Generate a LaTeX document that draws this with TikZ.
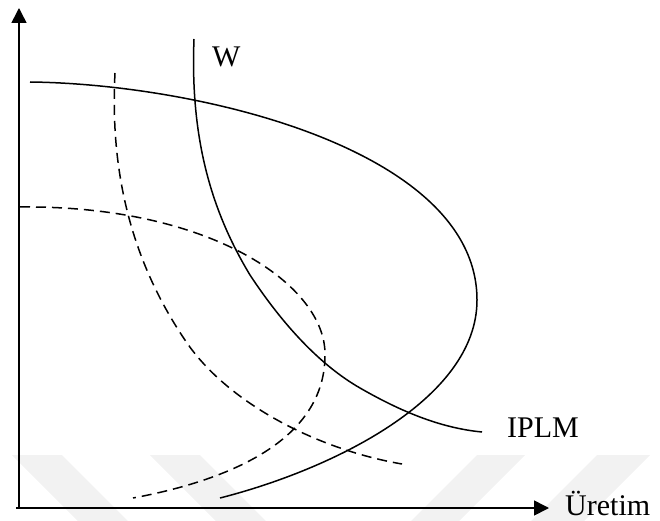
\documentclass[tikz,border=0pt]{standalone}
\usepackage{fontspec}
\setmainfont{Liberation Serif}
\usepackage{tikz}
\usetikzlibrary{arrows.meta,positioning,calc}

\begin{document}
\begin{tikzpicture}[x=1pt, y=-1pt,
    axis/.style={line width=1.6pt, -{Triangle[length=15pt,width=15pt]}},
    curve/.style={line width=1.5pt},
    dcurve/.style={curve, dash pattern=on 10pt off 6pt},
    lbl/.style={inner sep=0pt, anchor=base west, font=\fontsize{30}{35}\selectfont},
    stripe/.style={fill=gray!10, draw=none}]
    \useasboundingbox (0,0) rectangle (660,521);

    % Watermark stripes
    \fill[stripe] (12,455) -- (62,455) -- (128,521) -- (78,521) -- cycle;
    \fill[stripe] (150,455) -- (200,455) -- (266,521) -- (216,521) -- cycle;
    \fill[stripe] (477,455) -- (525,455) -- (459,521) -- (411,521) -- cycle;
    \fill[stripe] (597,455) -- (650,455) -- (584,521) -- (531,521) -- cycle;

    % Axes
    \coordinate (o) at (19,508);
    \coordinate (ytop) at (19,8);
    \coordinate (xend) at (549,508);
    \draw[axis] (o) -- (ytop);
    \draw[axis] (16,508) -- (xend);

    % Solid curves
    \draw[curve] (30,82) .. controls (200,84) and (477,150) .. (477,300)
        .. controls (477,400) and (330,470) .. (220,498);
    \draw[curve] (194,39) .. controls (190,140) and (212,212) .. (250,275)
        .. controls (283,325) and (320,365) .. (360,388)
        .. controls (400,411) and (440,428) .. (482,432);

    % Dashed curves
    \draw[dcurve] (115,73) .. controls (110,170) and (130,260) .. (187,343)
        .. controls (230,405) and (320,450) .. (402,464);
    \draw[dcurve] (20,207) .. controls (210,205) and (326,285) .. (325,355)
        .. controls (325,440) and (230,480) .. (133,498);

    % Labels
    \node[lbl] (w) at (212,67) {W};
    \node[lbl] (iplm) at (507,437) {IPLM};
    \node[lbl] (uretim) at (565,515) {Üretim};
\end{tikzpicture}
\end{document}
